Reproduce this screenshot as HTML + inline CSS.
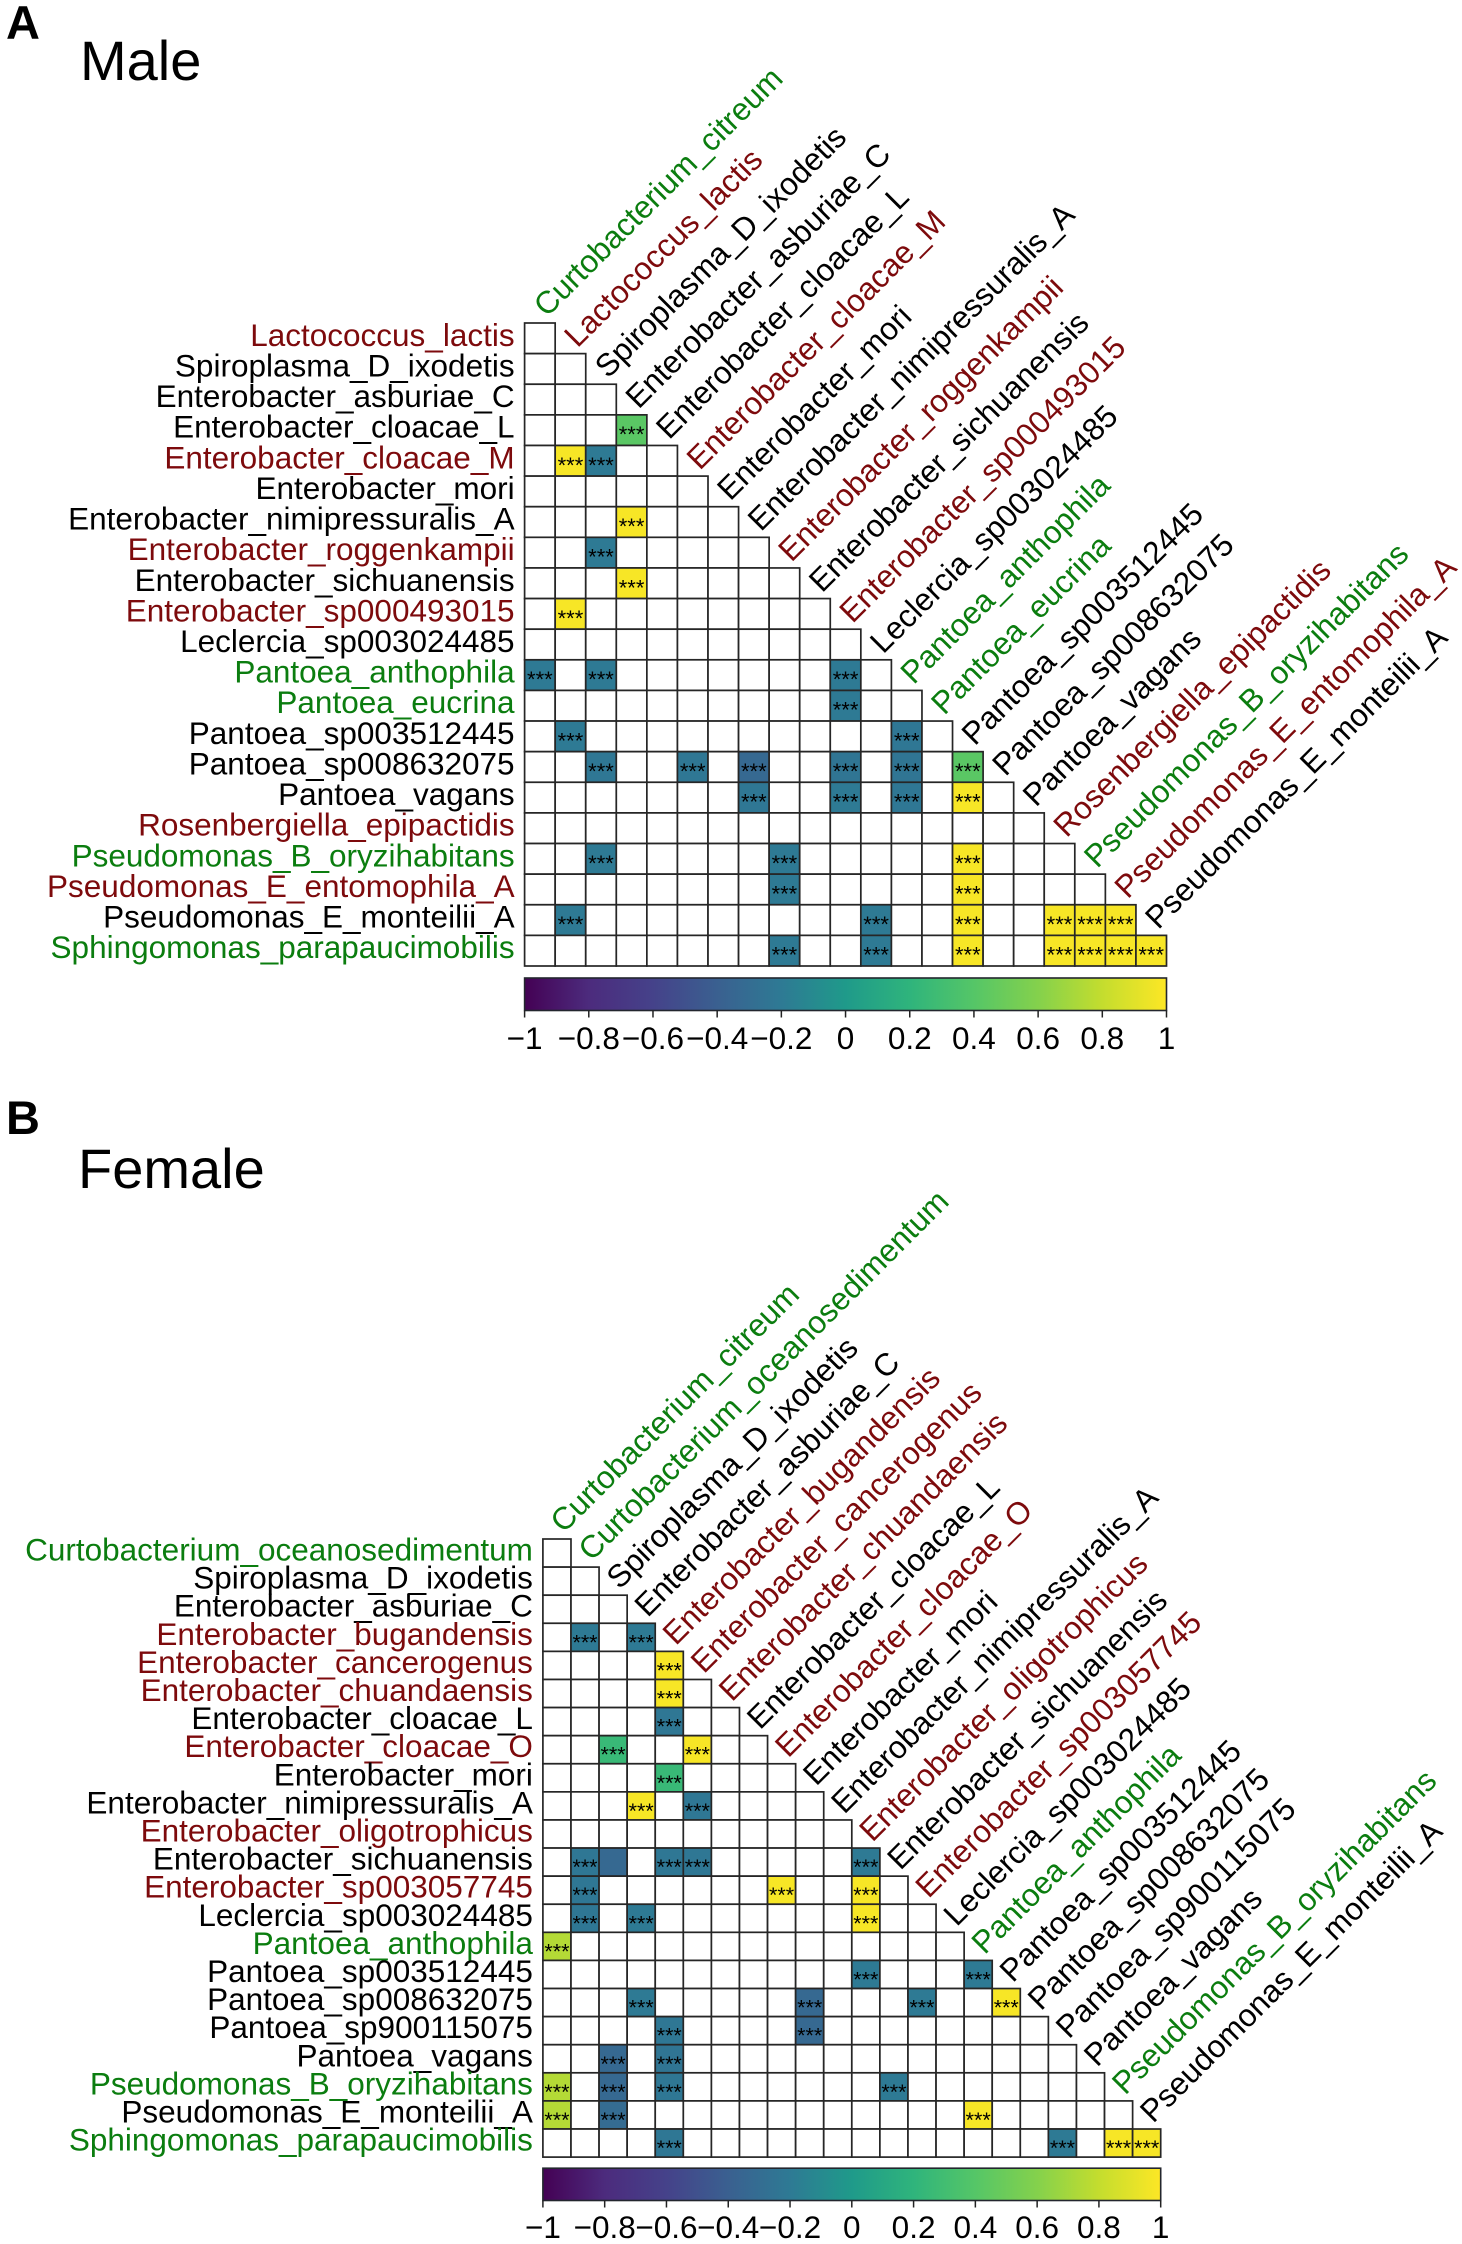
<!DOCTYPE html>
<html lang="en">
<head>
<meta charset="utf-8">
<title>Male and female taxa correlation heatmaps</title>
<style>
html,body{margin:0;padding:0;background:#fff;}
svg{display:block;}
text{font-family:"Liberation Sans",Arial,sans-serif;}
</style>
</head>
<body>
<svg id="figure" xmlns="http://www.w3.org/2000/svg" width="1462" height="2244" viewBox="0 0 1462 2244">
  <rect x="0" y="0" width="1462" height="2244" fill="#fff"/>
  <defs id="defs"></defs>
</svg>
<script>
const _ = null;

// ---------- Panel A data ----------
const maleRows = ['Lactococcus_lactis','Spiroplasma_D_ixodetis','Enterobacter_asburiae_C','Enterobacter_cloacae_L','Enterobacter_cloacae_M','Enterobacter_mori','Enterobacter_nimipressuralis_A','Enterobacter_roggenkampii','Enterobacter_sichuanensis','Enterobacter_sp000493015','Leclercia_sp003024485','Pantoea_anthophila','Pantoea_eucrina','Pantoea_sp003512445','Pantoea_sp008632075','Pantoea_vagans','Rosenbergiella_epipactidis','Pseudomonas_B_oryzihabitans','Pseudomonas_E_entomophila_A','Pseudomonas_E_monteilii_A','Sphingomonas_parapaucimobilis'];
const maleCols = ['Curtobacterium_citreum','Lactococcus_lactis','Spiroplasma_D_ixodetis','Enterobacter_asburiae_C','Enterobacter_cloacae_L','Enterobacter_cloacae_M','Enterobacter_mori','Enterobacter_nimipressuralis_A','Enterobacter_roggenkampii','Enterobacter_sichuanensis','Enterobacter_sp000493015','Leclercia_sp003024485','Pantoea_anthophila','Pantoea_eucrina','Pantoea_sp003512445','Pantoea_sp008632075','Pantoea_vagans','Rosenbergiella_epipactidis','Pseudomonas_B_oryzihabitans','Pseudomonas_E_entomophila_A','Pseudomonas_E_monteilii_A'];
const maleValues = [
  [],
  [],
  [],
  [_,_,_,.42],
  [_,.98,-.2],
  [],
  [_,_,_,.98],
  [_,_,-.2],
  [_,_,_,.98],
  [_,.98],
  [],
  [-.2,_,-.2,_,_,_,_,_,_,_,-.2],
  [_,_,_,_,_,_,_,_,_,_,-.2],
  [_,-.2,_,_,_,_,_,_,_,_,_,_,-.22],
  [_,_,-.22,_,_,-.22,_,-.33,_,_,-.24,_,-.24,_,.42],
  [_,_,_,_,_,_,_,-.22,_,_,-.2,_,-.22,_,.98],
  [],
  [_,_,-.2,_,_,_,_,_,-.2,_,_,_,_,_,.98],
  [_,_,_,_,_,_,_,_,-.2,_,_,_,_,_,.98],
  [_,-.2,_,_,_,_,_,_,_,_,_,-.2,_,_,.98,_,_,.98,.98,.98],
  [_,_,_,_,_,_,_,_,-.2,_,_,-.2,_,_,.98,_,_,.98,.98,.98,.98]
];

// ---------- Panel B data ----------
const femaleRows = ['Curtobacterium_oceanosedimentum','Spiroplasma_D_ixodetis','Enterobacter_asburiae_C','Enterobacter_bugandensis','Enterobacter_cancerogenus','Enterobacter_chuandaensis','Enterobacter_cloacae_L','Enterobacter_cloacae_O','Enterobacter_mori','Enterobacter_nimipressuralis_A','Enterobacter_oligotrophicus','Enterobacter_sichuanensis','Enterobacter_sp003057745','Leclercia_sp003024485','Pantoea_anthophila','Pantoea_sp003512445','Pantoea_sp008632075','Pantoea_sp900115075','Pantoea_vagans','Pseudomonas_B_oryzihabitans','Pseudomonas_E_monteilii_A','Sphingomonas_parapaucimobilis'];
const femaleCols = ['Curtobacterium_citreum','Curtobacterium_oceanosedimentum','Spiroplasma_D_ixodetis','Enterobacter_asburiae_C','Enterobacter_bugandensis','Enterobacter_cancerogenus','Enterobacter_chuandaensis','Enterobacter_cloacae_L','Enterobacter_cloacae_O','Enterobacter_mori','Enterobacter_nimipressuralis_A','Enterobacter_oligotrophicus','Enterobacter_sichuanensis','Enterobacter_sp003057745','Leclercia_sp003024485','Pantoea_anthophila','Pantoea_sp003512445','Pantoea_sp008632075','Pantoea_sp900115075','Pantoea_vagans','Pseudomonas_B_oryzihabitans','Pseudomonas_E_monteilii_A'];
const femaleValues = [
  [],
  [],
  [],
  [_,-.2,_,-.2],
  [_,_,_,_,.98],
  [_,_,_,_,.98],
  [_,_,_,_,-.22],
  [_,_,.25,_,_,.98],
  [_,_,_,_,.25],
  [_,_,_,.98,_,-.22],
  [],
  [_,-.22,-.33,_,-.22,-.22,_,_,_,_,_,-.2],
  [_,-.22,_,_,_,_,_,_,.98,_,_,.98],
  [_,-.22,_,-.2,_,_,_,_,_,_,_,.98],
  [.75],
  [_,_,_,_,_,_,_,_,_,_,_,-.2,_,_,_,-.2],
  [_,_,_,-.2,_,_,_,_,_,-.33,_,_,_,-.2,_,_,.98],
  [_,_,_,_,-.22,_,_,_,_,-.33],
  [_,_,-.33,_,-.24],
  [.75,_,-.33,_,-.22,_,_,_,_,_,_,_,-.2],
  [.75,_,-.31,_,_,_,_,_,_,_,_,_,_,_,_,.98],
  [_,_,_,_,-.22,_,_,_,_,_,_,_,_,_,_,_,_,_,-.2,_,.98,.98]
];
const femaleUnstarred = ['Enterobacter_sichuanensis|Spiroplasma_D_ixodetis'];

// ---------- Shared legend / category data ----------
const redTaxa = ['Lactococcus_lactis','Enterobacter_cloacae_M','Enterobacter_roggenkampii','Enterobacter_sp000493015','Rosenbergiella_epipactidis','Pseudomonas_E_entomophila_A','Enterobacter_bugandensis','Enterobacter_cancerogenus','Enterobacter_chuandaensis','Enterobacter_cloacae_O','Enterobacter_oligotrophicus','Enterobacter_sp003057745'];
const greenTaxa = ['Curtobacterium_citreum','Curtobacterium_oceanosedimentum','Pantoea_anthophila','Pantoea_eucrina','Pseudomonas_B_oryzihabitans','Sphingomonas_parapaucimobilis'];
const colorbarTicks = [-1,-.8,-.6,-.4,-.2,0,.2,.4,.6,.8,1];
const colorbarLabels = ['\u22121','\u22120.8','\u22120.6','\u22120.4','\u22120.2','0','0.2','0.4','0.6','0.8','1'];
const rampValues = [-1,-.8,-.6,-.4,-.2,0,.2,.4,.6,.8,1];
const rampColors = ['#440154','#4c2b7d','#45428a','#3a6090','#2e7a94','#1f9a8a','#2fb47c','#55c667','#84d14c','#c4dd2e','#fde725'];

const NS = 'http://www.w3.org/2000/svg';
const svg = document.getElementById('figure');
const defs = document.getElementById('defs');



function make(tag, attrs, parent, txt) {
  const el = document.createElementNS(NS, tag);
  for (const k in attrs) el.setAttribute(k, attrs[k]);
  if (txt !== undefined) el.textContent = txt;
  parent.appendChild(el);
  return el;
}
function hex(c) {
  return [1, 3, 5].map(i => parseInt(c.substr(i, 2), 16));
}
function colorFor(v) {
  const t = Math.max(-1, Math.min(1, v));
  let i = 0;
  while (i < rampValues.length - 2 && t > rampValues[i + 1]) i++;
  const f = (t - rampValues[i]) / (rampValues[i + 1] - rampValues[i]);
  const a = hex(rampColors[i]), b = hex(rampColors[i + 1]);
  return 'rgb(' + a.map((x, j) => Math.round(x + (b[j] - x) * f)).join(',') + ')';
}
function taxonColor(name) {
  if (redTaxa.includes(name)) return '#7d0a0c';
  if (greenTaxa.includes(name)) return '#0b7d0f';
  return '#000';
}

function drawPanel(p) {
  const cw = (p.right - p.left) / p.cols.length;
  const rh = (p.bottom - p.top) / p.rows.length;
  const xAxis = i => p.left + i * cw;
  const yAxis = j => p.top + j * rh;
  const barX = v => p.left + (v + 1) / 2 * (p.right - p.left);

  const g = make('g', {}, svg);
  
  

  const letter = make('text', {x: p.letterX, y: p.letterY, 'font-size': 47, 'font-weight': 'bold', fill: '#000'}, g, p.letter);
  
  

  const title = make('text', {x: p.titleX, y: p.titleY, 'font-size': 56, fill: '#000'}, g, p.title);
  
  

  p.rows.forEach((name, r) => {
    const t = make('text', {x: p.left - 10, y: yAxis(r) + rh / 2 + 7.5, 'font-size': p.font, 'text-anchor': 'end', fill: taxonColor(name)}, g, name);
    
    
  });

  p.cols.forEach((name, c) => {
    const x = xAxis(c) + cw / 2 + p.colDx;
    const y = p.top + c * rh + p.colDy;
    const t = make('text', {x: x, y: y, 'font-size': p.font, fill: taxonColor(name), transform: 'rotate(-45 ' + x + ' ' + y + ')'}, g, name);
    
    
  });

  p.rows.forEach((rowName, r) => {
    for (let c = 0; c <= r; c++) {
      const v = (p.values[r] || [])[c];
      const has = v !== null && v !== undefined;
      const cell = make('rect', {x: xAxis(c), y: yAxis(r), width: cw, height: rh, fill: has ? colorFor(v) : '#fff', stroke: '#262626', 'stroke-width': 1.7}, g);
      
      
    }
  });

  p.rows.forEach((rowName, r) => {
    for (let c = 0; c <= r; c++) {
      const v = (p.values[r] || [])[c];
      if (v === null || v === undefined) continue;
      if (p.unstarred.includes(rowName + '|' + p.cols[c])) continue;
      const s = make('text', {x: xAxis(c) + cw / 2, y: yAxis(r) + rh / 2 + p.starDy, 'font-size': p.starFont, 'text-anchor': 'middle', fill: '#000'}, g, '***');
      
      
    }
  });

  const grad = make('linearGradient', {id: p.key + '-gradient', x1: 0, x2: 1, y1: 0, y2: 0}, defs);
  
  
  rampValues.forEach((v, i) => {
    const st = make('stop', {offset: (v + 1) / 2, 'stop-color': rampColors[i]}, grad);
    
    
  });

  const bar = make('rect', {x: p.left, y: p.barTop, width: p.right - p.left, height: p.barBottom - p.barTop, fill: 'url(#' + p.key + '-gradient)', stroke: '#23262e', 'stroke-width': 1.6}, g);
  
  

  colorbarTicks.forEach((v, i) => {
    const tick = make('line', {x1: barX(v), x2: barX(v), y1: p.barBottom, y2: p.barBottom + 7, stroke: '#222', 'stroke-width': 1.5}, g);
    
    
    const lab = make('text', {x: barX(v), y: p.barLabelY, 'font-size': p.font, 'text-anchor': 'middle', fill: '#000'}, g, colorbarLabels[i]);
    
    
  });
}

drawPanel({
  key: 'male', letter: 'A', title: 'Male', letterX: 6, letterY: 39, titleX: 80, titleY: 80,
  rows: maleRows, cols: maleCols, values: maleValues, unstarred: [],
  left: 524.6, right: 1166.5, top: 323, bottom: 966,
  colDx: 7, colDy: -5, font: 31.5, starFont: 22, starDy: 12,
  barTop: 978, barBottom: 1010.5, barLabelY: 1049
});
drawPanel({
  key: 'female', letter: 'B', title: 'Female', letterX: 6, letterY: 1134, titleX: 78, titleY: 1188,
  rows: femaleRows, cols: femaleCols, values: femaleValues, unstarred: femaleUnstarred,
  left: 542.9, right: 1160.7, top: 1539, bottom: 2157.1,
  colDx: 6.5, colDy: -5, font: 31.5, starFont: 21.5, starDy: 12,
  barTop: 2168.2, barBottom: 2200.5, barLabelY: 2238
});
</script>
</body>
</html>
